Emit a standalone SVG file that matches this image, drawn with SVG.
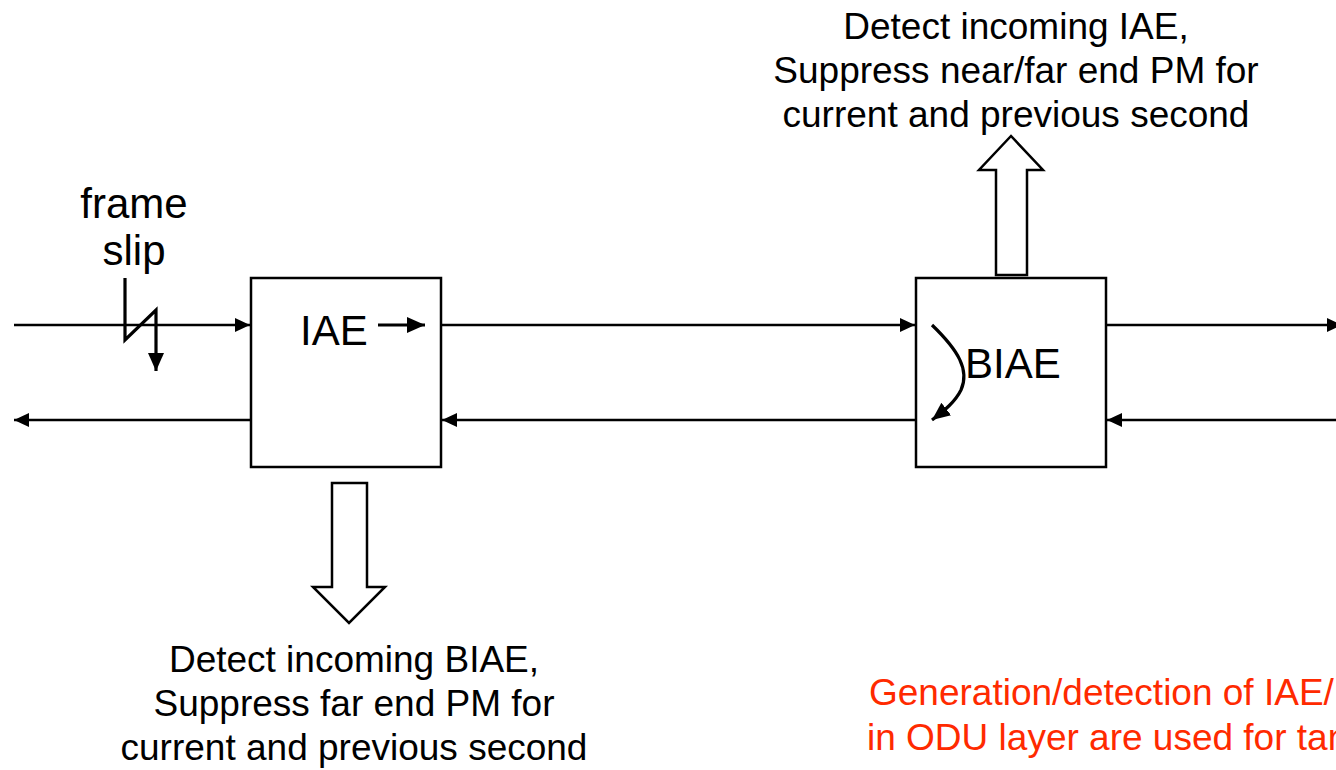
<svg xmlns="http://www.w3.org/2000/svg" width="1336" height="770" viewBox="0 0 1336 770">
<style>
text{font-family:"Liberation Sans",Arial,sans-serif;fill:#000}
.t{font-size:37px;text-anchor:middle}
.lb{font-size:42px}
.red{font-size:37px;fill:#ff2a00}
.box{fill:#fff;stroke:#000;stroke-width:2.5}
.ln{fill:none;stroke:#000;stroke-width:2.5}
.thk{fill:none;stroke:#000;stroke-width:3.2}
.hollow{fill:#fff;stroke:#000;stroke-width:2.5;stroke-linejoin:miter}
</style>
<defs>
<marker id="ah" markerUnits="userSpaceOnUse" markerWidth="16" markerHeight="16" viewBox="0 0 16 16" refX="15" refY="8" orient="auto">
<path d="M0,1 L15,8 L0,15 Z" fill="#000"/>
</marker>
<marker id="ah2" markerUnits="userSpaceOnUse" markerWidth="20" markerHeight="20" viewBox="0 0 20 20" refX="18" refY="10" orient="auto">
<path d="M0,2 L18,10 L0,18 Z" fill="#000"/>
</marker>
</defs>
<rect width="1336" height="770" fill="#fff"/>
<g id="connectors">
<line class="ln" x1="14" y1="325" x2="250" y2="325" marker-end="url(#ah)"/>
<line class="ln" x1="441" y1="325" x2="915" y2="325" marker-end="url(#ah)"/>
<line class="ln" x1="1106" y1="325" x2="1342" y2="325" marker-end="url(#ah)"/>
<line class="ln" x1="251" y1="420" x2="14" y2="420" marker-end="url(#ah)"/>
<line class="ln" x1="916" y1="420" x2="442" y2="420" marker-end="url(#ah)"/>
<line class="ln" x1="1340" y1="420" x2="1107" y2="420" marker-end="url(#ah)"/>
</g>
<g id="frame-slip">
<polyline class="thk" points="125,278 125,340 156,310 156,371" marker-end="url(#ah2)"/>
<text class="lb" x="134" y="218" text-anchor="middle">frame</text>
<text class="lb" x="134" y="265" text-anchor="middle">slip</text>
</g>
<g id="iae-node">
<rect class="box" x="251" y="278" width="190" height="189"/>
<text class="lb" x="300" y="345">IAE</text>
<line class="thk" x1="378" y1="325" x2="425" y2="325" marker-end="url(#ah2)"/>
</g>
<g id="biae-node">
<rect class="box" x="916" y="278" width="190" height="189"/>
<text class="lb" x="965" y="378">BIAE</text>
<path class="thk" d="M932,325 C958,350 970,370 961,390 C955,402 945,410 932,420" marker-end="url(#ah2)"/>
</g>
<g id="up-arrow">
<path class="hollow" d="M996,275 L996,170 L979,170 L1011,136 L1043,170 L1027,170 L1027,275 Z"/>
<text class="t" x="1016" y="39">Detect incoming IAE,</text>
<text class="t" x="1016" y="83">Suppress near/far end PM for</text>
<text class="t" x="1016" y="127">current and previous second</text>
</g>
<g id="down-arrow">
<path class="hollow" d="M332,483 L367,483 L367,587 L385,587 L349,623 L313,587 L332,587 Z"/>
<text class="t" x="354" y="672">Detect incoming BIAE,</text>
<text class="t" x="354" y="716">Suppress far end PM for</text>
<text class="t" x="354" y="760">current and previous second</text>
</g>
<g id="note">
<text class="red" x="869" y="705">Generation/detection of IAE/BIAE</text>
<text class="red" x="867" y="750">in ODU layer are used for tandem</text>
</g>
</svg>
